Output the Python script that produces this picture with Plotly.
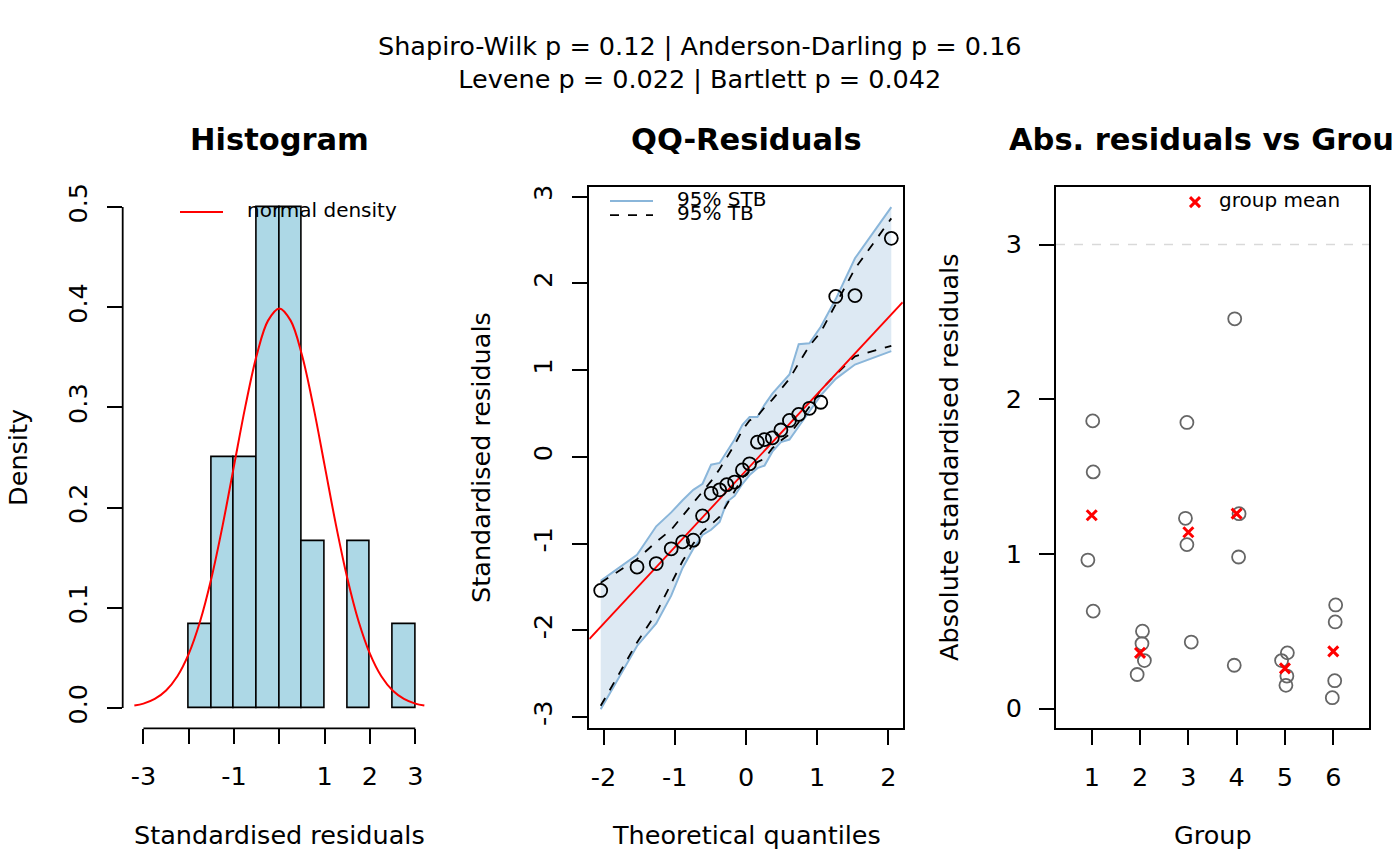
import plotly.graph_objects as go

# -------- data --------
# sorted standardised residuals (QQ panel, also used for the histogram)
theo_q = [-2.04, -1.53, -1.26, -1.05, -0.89, -0.74, -0.61, -0.49, -0.37, -0.27, -0.16, -0.05,
          0.05, 0.16, 0.26, 0.37, 0.49, 0.61, 0.74, 0.89, 1.05, 1.26, 1.53, 2.04]
resid = [-1.54, -1.27, -1.23, -1.06, -0.98, -0.96, -0.68, -0.42, -0.38, -0.32, -0.29, -0.15,
         -0.08, 0.17, 0.20, 0.22, 0.31, 0.42, 0.49, 0.56, 0.63, 1.85, 1.86, 2.52]

# 95% simultaneous (STB) and pointwise (TB) bands at theo_q
stb_upper = [-1.43, -1.13, -0.80, -0.64, -0.50, -0.38, -0.31, -0.09, -0.07, 0.06, 0.20, 0.37,
             0.46, 0.46, 0.60, 0.73, 0.84, 0.95, 1.30, 1.31, 1.50, 1.82, 2.29, 2.88]
stb_lower = [-2.91, -2.18, -1.92, -1.60, -1.28, -1.06, -0.90, -0.84, -0.75, -0.52, -0.45, -0.31,
             -0.21, -0.13, -0.10, 0.06, 0.17, 0.20, 0.35, 0.52, 0.71, 0.90, 1.065, 1.22]
tb_upper = [-1.45, -1.18, -0.98, -0.84, -0.68, -0.53, -0.40, -0.28, -0.14, -0.01, 0.14, 0.31,
            0.42, 0.47, 0.57, 0.66, 0.78, 0.90, 1.08, 1.28, 1.44, 1.76, 2.17, 2.75]
tb_lower = [-2.87, -2.14, -1.80, -1.45, -1.20, -1.00, -0.86, -0.78, -0.69, -0.55, -0.40, -0.24,
            -0.16, -0.06, -0.02, 0.10, 0.19, 0.26, 0.40, 0.58, 0.77, 0.95, 1.16, 1.28]

# qqline
qq_intercept = -0.158
qq_slope = 0.883

# normal density curve
dens_x = [-3.2, -3.0, -2.75, -2.5, -2.25, -2.0, -1.75, -1.5, -1.25, -1.0, -0.75, -0.5, -0.25, 0.0,
          0.25, 0.5, 0.75, 1.0, 1.25, 1.5, 1.75, 2.0, 2.25, 2.5, 2.75, 3.0, 3.2]
dens_y = [0.0024, 0.0044, 0.0091, 0.0175, 0.0317, 0.054, 0.0863, 0.1295, 0.1826, 0.242, 0.3011,
          0.3521, 0.3867, 0.3989, 0.3867, 0.3521, 0.3011, 0.242, 0.1826, 0.1295, 0.0863, 0.054,
          0.0317, 0.0175, 0.0091, 0.0044, 0.0024]

# absolute residuals by group (jittered x)
grp_x = [1.02, 1.03, 0.92, 1.03,
         2.05, 2.04, 2.09, 1.94,
         2.97, 2.94, 2.97, 3.06,
         3.96, 4.05, 4.04, 3.95,
         5.05, 4.93, 5.04, 5.02,
         6.05, 6.04, 6.03, 5.98]
grp_abs = [1.86, 1.53, 0.96, 0.63,
           0.50, 0.42, 0.31, 0.22,
           1.85, 1.23, 1.06, 0.43,
           2.52, 1.26, 0.98, 0.28,
           0.36, 0.31, 0.21, 0.15,
           0.67, 0.56, 0.18, 0.07]
groups = [1, 2, 3, 4, 5, 6]
grp_mean = [1.25, 0.36, 1.14, 1.26, 0.26, 0.37]

hist_ticks = [-3, -2, -1, 0, 1, 2, 3]
hist_ticktext = ["-3", "", "-1", "", "1", "2", "3"]
dens_ticks = [0, 0.1, 0.2, 0.3, 0.4, 0.5]
qq_xticks = [-2, -1, 0, 1, 2]
qq_yticks = [-3, -2, -1, 0, 1, 2, 3]
grp_yticks = [0, 1, 2, 3]

subtitle = ["Shapiro-Wilk p = 0.12 | Anderson-Darling p = 0.16",
            "Levene p = 0.022 | Bartlett p = 0.042"]

# -------- figure --------
# page body has an 8px margin, so the figure is 8px smaller and all
# reference pixel positions are shifted by 8
OFF = 8
W, H = 1400 - OFF, 866 - OFF
FONT = "DejaVu Sans"
FS = 25.5
FS_TITLE = 30.5
FS_LEG = 20
LW = 1.8


def px(x):
    return (x - OFF) / W


def py(y):
    return 1 - (y - OFF) / H


def rlabels(vals, fmt="{:g}"):
    # R prints a plain hyphen for negatives
    return [fmt.format(v) for v in vals]


fig = go.Figure()

# histogram
fig.add_trace(go.Histogram(
    x=resid, histnorm="probability density",
    xbins=dict(start=-2, end=3, size=0.5),
    marker=dict(color="#ADD8E6", line=dict(color="black", width=1.6)),
    xaxis="x", yaxis="y"))
fig.add_trace(go.Scatter(
    x=dens_x, y=dens_y, mode="lines", line=dict(color="red", width=2, shape="spline"),
    xaxis="x", yaxis="y"))

# QQ band
fig.add_trace(go.Scatter(
    x=theo_q + theo_q[::-1], y=stb_upper + stb_lower[::-1], mode="lines",
    fill="toself", fillcolor="#DDE9F3", line=dict(width=0),
    xaxis="x2", yaxis="y2"))
for band in (stb_upper, stb_lower):
    fig.add_trace(go.Scatter(x=theo_q, y=band, mode="lines",
                             line=dict(color="#8AB6DA", width=2), xaxis="x2", yaxis="y2"))
for band in (tb_upper, tb_lower):
    fig.add_trace(go.Scatter(x=theo_q, y=band, mode="lines",
                             line=dict(color="black", width=1.8, dash="dash"),
                             xaxis="x2", yaxis="y2"))
qx = [-2.2, 2.2]
fig.add_trace(go.Scatter(x=qx, y=[qq_intercept + qq_slope * v for v in qx], mode="lines",
                         line=dict(color="red", width=1.8), xaxis="x2", yaxis="y2"))
fig.add_trace(go.Scatter(x=theo_q, y=resid, mode="markers",
                         marker=dict(symbol="circle-open", size=13, color="black",
                                     line=dict(width=1.8)),
                         xaxis="x2", yaxis="y2"))

# abs residuals vs group
fig.add_trace(go.Scatter(x=grp_x, y=grp_abs, mode="markers",
                         marker=dict(symbol="circle-open", size=13, color="#666666",
                                     line=dict(width=1.8)),
                         xaxis="x3", yaxis="y3"))
fig.add_trace(go.Scatter(x=groups, y=grp_mean, mode="markers",
                         marker=dict(symbol="x-thin-open", size=10, color="red",
                                     line=dict(width=3, color="red")),
                         xaxis="x3", yaxis="y3"))

tick_common = dict(ticks="outside", ticklen=15, tickwidth=LW, tickcolor="black",
                   showgrid=False, zeroline=False,
                   tickfont=dict(family=FONT, size=FS, color="black"))
box = dict(showline=True, mirror=True, linecolor="black", linewidth=LW)

y_dom = [py(727.7), py(184)]
fig.update_layout(
    width=W, height=H, margin=dict(l=0, r=0, t=0, b=0),
    paper_bgcolor="white", plot_bgcolor="white", showlegend=False, bargap=0,
    font=dict(family=FONT, size=FS, color="black"),
    xaxis=dict(domain=[px(122.7), px(436)], range=[-3.457, 3.457], anchor="y",
               tickvals=hist_ticks, ticktext=hist_ticktext,
               ticklabelstandoff=10, **tick_common),
    yaxis=dict(domain=y_dom, range=[-0.0203, 0.5199], anchor="x",
               tickvals=dens_ticks, ticktext=rlabels(dens_ticks, "{:.1f}"), tickangle=-90,
               ticklabelstandoff=10, **tick_common),
    xaxis2=dict(domain=[px(589.3), px(902.7)], range=[-2.2, 2.2], anchor="y2",
                tickvals=qq_xticks, ticktext=rlabels(qq_xticks),
                ticklabelstandoff=10, **box, **tick_common),
    yaxis2=dict(domain=y_dom, range=[-3.13, 3.11], anchor="x2",
                tickvals=qq_yticks, ticktext=rlabels(qq_yticks), tickangle=-90,
                ticklabelstandoff=10, **box, **tick_common),
    xaxis3=dict(domain=[px(1056), px(1369)], range=[0.26, 6.74], anchor="y3",
                tickvals=groups, ticktext=rlabels(groups),
                ticklabelstandoff=10, **box, **tick_common),
    yaxis3=dict(domain=y_dom, range=[-0.128, 3.371], anchor="x3",
                tickvals=grp_yticks, ticktext=rlabels(grp_yticks),
                ticklabelstandoff=12, **box, **tick_common),
)

shapes = [
    # R-style detached axis lines for the histogram
    dict(type="line", xref="x", yref="y domain", x0=hist_ticks[0], x1=hist_ticks[-1], y0=0, y1=0,
         line=dict(color="black", width=LW)),
    dict(type="line", xref="x domain", yref="y", x0=0, x1=0, y0=dens_ticks[0], y1=dens_ticks[-1],
         line=dict(color="black", width=LW)),
    # reference line at 3 in group panel
    dict(type="line", xref="x3 domain", yref="y3", x0=0, x1=1, y0=3, y1=3,
         line=dict(color="#D9D9D9", width=1.6, dash="dash")),
    # legend samples
    dict(type="line", xref="paper", yref="paper", x0=px(180), x1=px(223), y0=py(209), y1=py(209),
         line=dict(color="red", width=2)),
    dict(type="line", xref="paper", yref="paper", x0=px(610), x1=px(653), y0=py(198), y1=py(198),
         line=dict(color="#8AB6DA", width=2)),
    dict(type="line", xref="paper", yref="paper", x0=px(610), x1=px(653), y0=py(212), y1=py(212),
         line=dict(color="black", width=1.8, dash="dash")),
    dict(type="line", xref="paper", yref="paper", x0=px(1190), x1=px(1200), y0=py(194), y1=py(204),
         line=dict(color="red", width=3)),
    dict(type="line", xref="paper", yref="paper", x0=px(1190), x1=px(1200), y0=py(204), y1=py(194),
         line=dict(color="red", width=3)),
]
fig.update_layout(shapes=shapes)

ann = []


def text(x, y, s, size=FS, bold=False, angle=0, xanchor="center"):
    ann.append(dict(x=px(x), y=py(y), xref="paper", yref="paper", text=f"<b>{s}</b>" if bold else s,
                    showarrow=False, xanchor=xanchor, yanchor="middle", textangle=angle,
                    font=dict(family=FONT, size=size, color="black")))


text(700, 58.5, "<br>".join(subtitle))
text(279, 136, "Histogram", size=FS_TITLE, bold=True)
text(746, 136, "QQ-Residuals", size=FS_TITLE, bold=True)
text(1212.5, 136, "Abs. residuals vs Group", size=FS_TITLE, bold=True)

text(18, 456, "Density", angle=-90)
text(279, 835, "Standardised residuals")
text(481, 456, "Standardised residuals", angle=-90)
text(746, 835, "Theoretical quantiles")
text(949, 456, "Absolute standardised residuals", angle=-90)
text(1212.5, 835, "Group")

text(245, 207, "normal density", size=FS_LEG, xanchor="left")
text(675, 196, "95% STB", size=FS_LEG, xanchor="left")
text(675, 210, "95% TB", size=FS_LEG, xanchor="left")
text(1217, 197, "group mean", size=FS_LEG, xanchor="left")
fig.update_layout(annotations=ann)

fig.write_html("out.html")
